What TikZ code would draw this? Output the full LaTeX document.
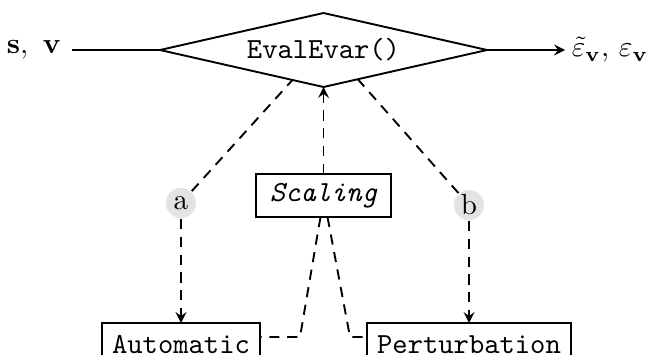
\documentclass[tikz,border=0pt]{standalone}
\usetikzlibrary{shapes.geometric,calc}
\def\pu{0.343pt}
\begin{document}
\begin{tikzpicture}[x=0.343pt,y=-0.343pt,
  line width=0.65pt,
  dsh/.style={dash pattern=on 3.5pt off 2.6pt},
  box/.style={draw, rectangle, inner sep=0pt, outer sep=0pt, minimum height=43*\pu, font=\ttfamily, line width=0.7pt},
  lbl/.style={circle, fill=gray!22, minimum size=30*\pu, inner sep=0pt},
  >=stealth]
\useasboundingbox (0,0) rectangle (659,354);
\node[draw, shape=diamond, aspect=4.42, minimum width=327*\pu, minimum height=74*\pu,
      inner sep=0pt, outer sep=0pt, font=\ttfamily] (dia) at (323.5,50) {EvalEvar()};
\node (sv) at (34,50) {$\mathbf{s},\ \mathbf{v}$};
\node[anchor=west, inner sep=2pt] (eps) at (565,50) {$\tilde{\varepsilon}_{\mathbf{v}},\,\varepsilon_{\mathbf{v}}$};
\draw (sv) -- (dia.west);
\draw[->] (dia.east) -- (eps);
\node[box, font=\ttfamily\itshape, minimum width=135*\pu] (scal) at (323.5,195.5) {Scaling};
\draw[dsh,->] (scal.north) -- (dia.south);
\node[lbl] (a) at (181,203) {a};
\node[lbl] (b) at (469,205) {b};
\draw[dsh] (a) -- ($(dia.west)!0.81!(dia.south)$);
\draw[dsh] (b) -- ($(dia.east)!0.79!(dia.south)$);
\node[box, minimum width=158*\pu] (auto) at (181,344.5) {Automatic};
\node[box, minimum width=204*\pu] (pert) at (469,344.5) {Perturbation};
\draw[dsh,->] (a) -- (auto);
\draw[dsh,->] (b) -- (pert);
\coordinate (s1) at ($(scal.south)+(-3,0)$);
\coordinate (s2) at ($(scal.south)+(4,0)$);
\coordinate (k1) at (300,337);
\coordinate (k2) at (350,337);
\draw[dsh] (s1) -- (k1) -- (k1 -| auto.east);
\draw[dsh] (s2) -- (k2) -- (k2 -| pert.west);
\end{tikzpicture}
\end{document}
